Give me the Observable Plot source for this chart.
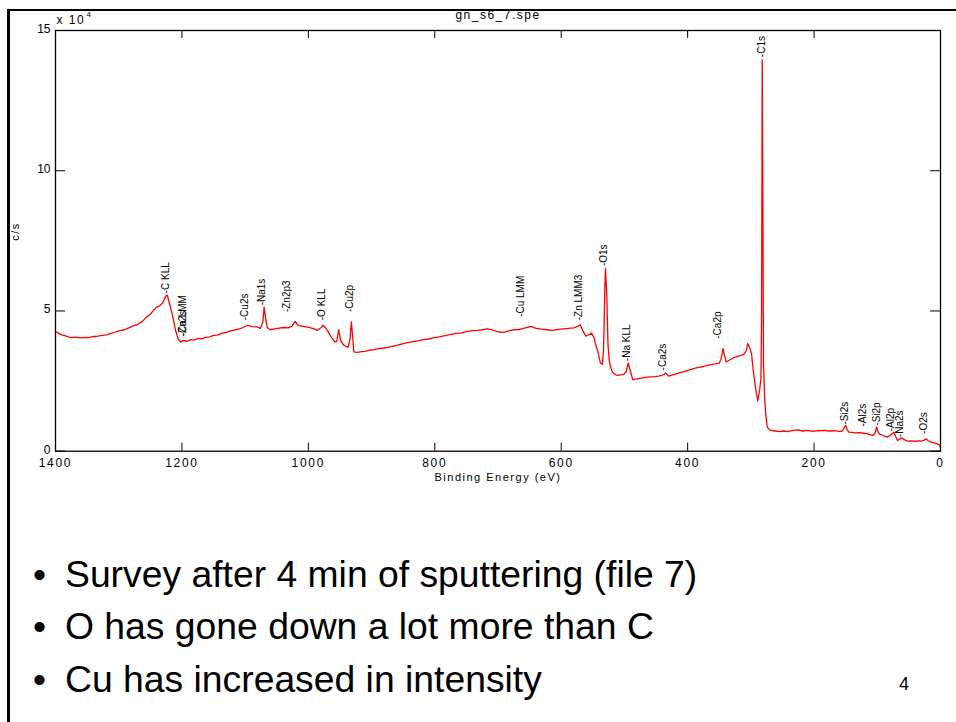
<!DOCTYPE html>
<html>
<head>
<meta charset="utf-8">
<script src="https://cdn.jsdelivr.net/npm/d3@7"></script>
<script src="https://cdn.jsdelivr.net/npm/@observablehq/plot@0.6"></script>
<style>
  body { margin: 0; background: #fff; }
  #slide { position: relative; width: 956px; height: 722px; overflow: hidden; background: #fff;
           font-family: "Liberation Sans", Arial, sans-serif; color: #000; }
  #chart { position: absolute; left: 0; top: 0; }
  #edge { position: absolute; left: 7px; top: 9px; width: 1200px; height: 1000px;
          border-left: 3px solid #000; border-top: 2.5px solid #000; z-index: 2; }
  .bullet { position: absolute; left: 33px; font-size: 37.3px; line-height: 52px; white-space: nowrap; }
  .bullet span { display: inline-block; width: 32px; }
  #pageno { position: absolute; left: 899px; top: 672px; font-size: 18px; line-height: 24px; }
</style>
</head>
<body>
<div id="slide">
  <div id="chart"></div>
  <div id="edge"></div>
  <div class="bullet" style="top:548px"><span>•</span>Survey after 4 min of sputtering (file 7)</div>
  <div class="bullet" style="top:600px"><span>•</span>O has gone down a lot more than C</div>
  <div class="bullet" style="top:653px"><span>•</span>Cu has increased in intensity</div>
  <div id="pageno">4</div>
</div>
<script>
// XPS survey spectrum gn_s6_7.spe: binding energy (eV) and count rate (x 10^4 c/s)
const energy = [
  1400, 1395, 1390, 1385, 1380, 1375, 1368, 1361, 1354, 1347, 1340, 1333, 1326, 1319, 1312, 1305,
  1298, 1291, 1284, 1277, 1270, 1263, 1256, 1250, 1245, 1240, 1235, 1230, 1226, 1223, 1219, 1215,
  1210, 1206, 1202, 1198, 1192, 1186, 1180, 1174, 1168, 1162, 1156, 1150, 1144, 1137, 1130, 1123,
  1116, 1109, 1103, 1096, 1089, 1081, 1076, 1072, 1070, 1068, 1065, 1060, 1053, 1046, 1039, 1032,
  1026, 1021, 1016, 1010, 1004, 998, 992, 986, 980, 977, 973, 970, 966, 962, 958, 955,
  952, 949, 945, 941, 937, 934, 932, 930, 928, 922, 916, 910, 903, 896, 889, 880,
  871, 862, 853, 845, 836, 827, 818, 810, 801, 793, 784, 776, 767, 759, 750, 741,
  733, 725, 717, 708, 699, 691, 683, 675, 666, 657, 648, 640, 631, 622, 614, 605,
  596, 588, 580, 574, 570, 566, 561, 556, 552, 548, 546, 542, 538, 535, 533, 531,
  530, 528, 526, 524, 522, 519, 515, 511, 506, 501, 497, 494, 491, 487, 481, 475,
  469, 464, 458, 452, 446, 441, 437, 435, 432, 430, 424, 418, 412, 406, 400, 394,
  388, 382, 375, 369, 363, 356, 350, 347, 344, 342, 339, 333, 327, 321, 316, 311,
  307, 305, 302, 299, 295, 292, 289, 286, 284, 283, 282, 281, 280, 278, 276, 274,
  271, 268, 262, 255, 248, 242, 235, 226, 218, 210, 202, 194, 184, 176, 168, 160,
  155, 152, 150, 148, 145, 140, 134, 128, 121, 115, 110, 107, 104, 101, 99, 96,
  94, 90, 86, 84, 80, 76, 74, 72, 68, 65, 61, 58, 52, 46, 40, 35,
  31, 26, 23, 20, 15, 10, 5, 2, 0
];
const counts = [
  4.27, 4.20, 4.15, 4.12, 4.08, 4.05, 4.07, 4.04, 4.06, 4.05, 4.09, 4.10, 4.13, 4.15, 4.20, 4.25,
  4.30, 4.33, 4.40, 4.47, 4.52, 4.62, 4.78, 4.88, 5.02, 5.14, 5.18, 5.30, 5.52, 5.56, 5.20, 4.85,
  4.31, 4.00, 3.89, 3.95, 3.92, 3.98, 3.97, 4.02, 4.01, 4.06, 4.08, 4.13, 4.14, 4.20, 4.24, 4.29,
  4.33, 4.36, 4.41, 4.49, 4.44, 4.43, 4.38, 4.60, 5.14, 4.80, 4.41, 4.33, 4.36, 4.39, 4.41, 4.40,
  4.46, 4.63, 4.48, 4.46, 4.43, 4.41, 4.37, 4.31, 4.40, 4.49, 4.40, 4.31, 4.15, 4.01, 3.90, 3.92,
  4.33, 3.95, 3.80, 3.74, 3.71, 4.00, 4.61, 4.10, 3.54, 3.52, 3.55, 3.56, 3.60, 3.62, 3.66, 3.68,
  3.72, 3.76, 3.82, 3.86, 3.90, 3.93, 3.98, 4.00, 4.05, 4.08, 4.12, 4.16, 4.20, 4.21, 4.26, 4.30,
  4.31, 4.33, 4.36, 4.32, 4.25, 4.24, 4.29, 4.33, 4.34, 4.40, 4.45, 4.38, 4.35, 4.33, 4.31, 4.34,
  4.36, 4.38, 4.40, 4.45, 4.51, 4.30, 4.10, 4.16, 4.21, 4.05, 3.84, 3.55, 3.14, 3.10, 3.60, 5.80,
  6.51, 5.60, 3.80, 3.24, 3.00, 2.82, 2.74, 2.70, 2.72, 2.74, 2.85, 3.14, 2.90, 2.55, 2.58, 2.60,
  2.62, 2.64, 2.65, 2.66, 2.68, 2.70, 2.74, 2.79, 2.72, 2.68, 2.72, 2.76, 2.80, 2.84, 2.88, 2.92,
  2.96, 2.99, 3.02, 3.06, 3.09, 3.11, 3.14, 3.30, 3.66, 3.45, 3.18, 3.26, 3.34, 3.38, 3.42, 3.45,
  3.60, 3.84, 3.70, 3.48, 2.64, 2.17, 1.79, 2.20, 2.60, 5.00, 13.95, 9.00, 3.13, 1.80, 1.21, 0.86,
  0.78, 0.74, 0.72, 0.70, 0.72, 0.70, 0.73, 0.76, 0.72, 0.74, 0.71, 0.73, 0.74, 0.72, 0.73, 0.71,
  0.72, 0.86, 0.92, 0.78, 0.68, 0.67, 0.65, 0.66, 0.64, 0.62, 0.58, 0.56, 0.62, 0.86, 0.70, 0.60,
  0.59, 0.55, 0.52, 0.50, 0.56, 0.64, 0.68, 0.58, 0.38, 0.42, 0.48, 0.42, 0.36, 0.37, 0.35, 0.37,
  0.36, 0.39, 0.44, 0.38, 0.32, 0.30, 0.26, 0.22, 0.14
];

// Peak identifications: name, binding energy and height (x 10^4 c/s) of the label foot
const peakNames   = ["-C KLL", "-Zn2s", "-Ca LMM", "-Cu2s", "-Na1s", "-Zn2p3", "-O KLL", "-Cu2p",
                     "-Cu LMM", "-Zn LMM3", "-O1s", "-Na KLL", "-Ca2s", "-Ca2p", "-C1s",
                     "-Si2s", "-Al2s", "-Si2p", "-Al2p", "-Na2s", "-O2s"];
const peakEnergy  = [1226, 1198, 1198, 1100, 1073, 1034, 978, 935,
                     664, 572, 533, 496, 440, 353, 282,
                     152, 123, 101, 79, 64, 27];
const peakHeight  = [5.63, 4.10, 4.10, 4.67, 5.20, 4.96, 4.67, 4.96,
                     4.79, 4.67, 6.60, 3.21, 2.88, 4.01, 14.05,
                     0.95, 0.88, 0.91, 0.71, 0.50, 0.62];

const xTicks = [1400, 1200, 1000, 800, 600, 400, 200, 0];
const yTicks = [0, 5, 10, 15];

const spectrum = energy.map((e, i) => [e, counts[i]]);
const peaks = peakNames.map((name, i) => ({name, e: peakEnergy[i], c: peakHeight[i]}));

const pxPerEv = 885 / 1400, pxPerUnit = 420 / 15;
const xTickLen = 8 / pxPerUnit;   // inward tick length on the energy axis (data units)
const yTickLen = 10 / pxPerEv;    // inward tick length on the count axis (data units)

const chart = Plot.plot({
  width: 956,
  height: 500,
  marginLeft: 55,
  marginRight: 16,
  marginTop: 30,
  marginBottom: 49.3,
  style: {fontFamily: "'Liberation Sans', Arial, sans-serif", background: "transparent", color: "#000", overflow: "visible"},
  x: {domain: [1400, 0]},
  y: {domain: [0, 15]},
  marks: [
    Plot.line(spectrum, {stroke: "#ff0000", strokeWidth: 1.3}),
    Plot.text(peaks, {x: "e", y: "c", text: "name", rotate: -90, textAnchor: "start",
                      lineAnchor: "middle", fontSize: 10, fill: "#000"}),
    Plot.frame({stroke: "#000", strokeWidth: 1.3}),
    Plot.ruleX(xTicks, {x: d => d, y1: 0, y2: xTickLen, stroke: "#000"}),
    Plot.ruleX(xTicks, {x: d => d, y1: 15, y2: 15 - xTickLen, stroke: "#000"}),
    Plot.ruleY(yTicks, {y: d => d, x1: 1400, x2: 1400 - yTickLen, stroke: "#000"}),
    Plot.ruleY(yTicks, {y: d => d, x1: 0, x2: yTickLen, stroke: "#000"}),
    Plot.axisX({ticks: xTicks, tickFormat: d3.format("d"), tickSize: 0, tickPadding: 7,
                fontSize: 12, label: null}),
    Plot.axisY({ticks: yTicks, tickFormat: d3.format("d"), tickSize: 0, tickPadding: 5,
                fontSize: 12, dy: -1.5, label: null}),
    Plot.text(["Binding Energy (eV)"], {frameAnchor: "bottom", lineAnchor: "bottom", dy: 30,
                                        fontSize: 11, className: "spaced"}),
    Plot.text(["gn_s6_7.spe"], {frameAnchor: "top", lineAnchor: "bottom", dy: -11.7,
                                fontSize: 12, className: "spaced"}),
    Plot.text(["x 10"], {frameAnchor: "top-left", textAnchor: "start", lineAnchor: "bottom",
                         dy: -6.7, dx: 1, fontSize: 12, className: "spaced"}),
    Plot.text(["4"], {frameAnchor: "top-left", textAnchor: "start", lineAnchor: "bottom",
                      dy: -14, dx: 31, fontSize: 8}),
    Plot.text(["c/s"], {frameAnchor: "left", rotate: -90, lineAnchor: "middle", dx: -40,
                        fontSize: 11, className: "spaced"})
  ]
});

// MATLAB-style tracking on the axis annotations
d3.select(chart).selectAll('[aria-label="x-axis tick label"] text').attr("letter-spacing", "1.7");
d3.select(chart).selectAll(".spaced text").attr("letter-spacing", "1.5");

document.getElementById("chart").appendChild(chart);
</script>
</body>
</html>
